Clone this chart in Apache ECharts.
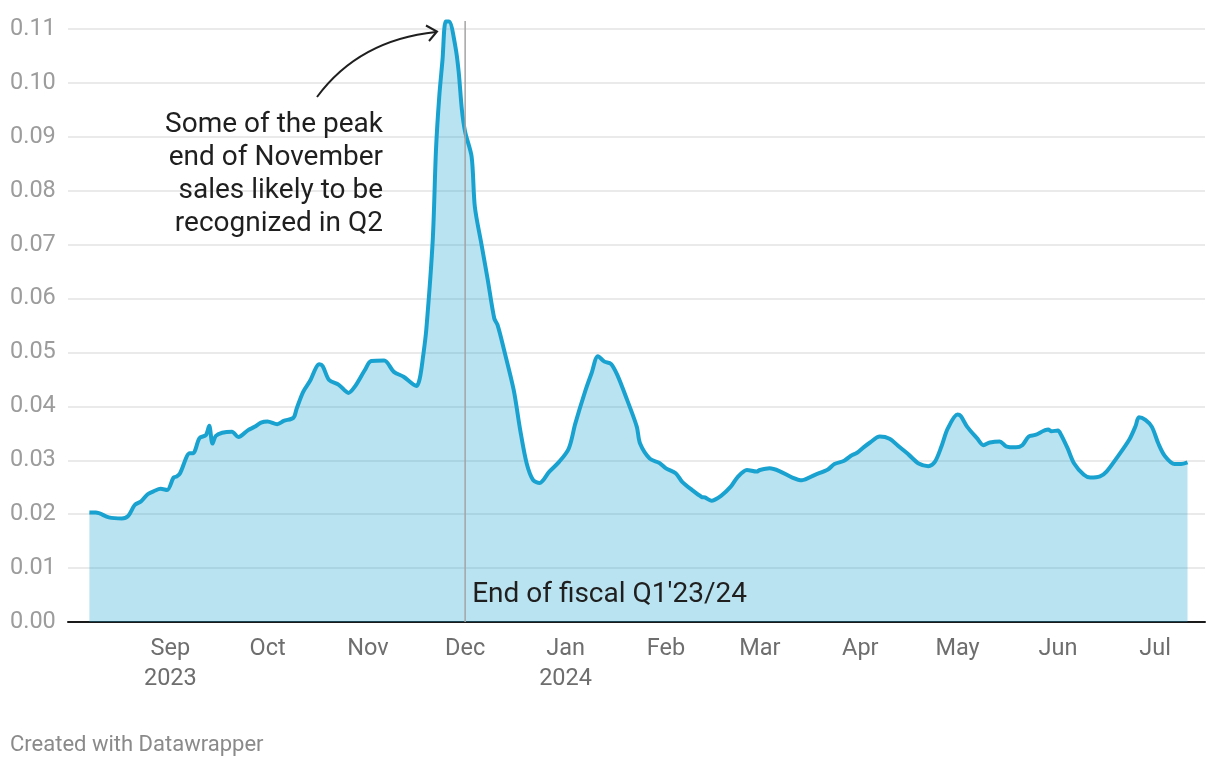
<!DOCTYPE html>
<html>
<head>
<meta charset="utf-8">
<script src="https://cdn.jsdelivr.net/npm/echarts@6/dist/echarts.min.js"></script>
<style>
  html, body { margin: 0; padding: 0; background: #fff; }
  #chart { width: 1220px; height: 768px; }
</style>
</head>
<body>
<div id="chart"></div>
<script>
// daily sales share
const dates = [
  '2023-08-07', '2023-08-09', '2023-08-13', '2023-08-17', '2023-08-19', '2023-08-21', '2023-08-23', '2023-08-25',
  '2023-08-27', '2023-08-29', '2023-08-31', '2023-09-02', '2023-09-03', '2023-09-04', '2023-09-07', '2023-09-08',
  '2023-09-10', '2023-09-12', '2023-09-13', '2023-09-14', '2023-09-15', '2023-09-17', '2023-09-20', '2023-09-22',
  '2023-09-25', '2023-09-27', '2023-09-29', '2023-10-01', '2023-10-04', '2023-10-06', '2023-10-09', '2023-10-10',
  '2023-10-12', '2023-10-14', '2023-10-17', '2023-10-18', '2023-10-20', '2023-10-23', '2023-10-26', '2023-10-28',
  '2023-10-31', '2023-11-02', '2023-11-06', '2023-11-09', '2023-11-12', '2023-11-16', '2023-11-17', '2023-11-18',
  '2023-11-19', '2023-11-21', '2023-11-22', '2023-11-23', '2023-11-24', '2023-11-25', '2023-11-26', '2023-11-28',
  '2023-11-29', '2023-11-30', '2023-12-01', '2023-12-03', '2023-12-04', '2023-12-06', '2023-12-08', '2023-12-10',
  '2023-12-11', '2023-12-13', '2023-12-16', '2023-12-18', '2023-12-20', '2023-12-22', '2023-12-24', '2023-12-27',
  '2023-12-30', '2024-01-02', '2024-01-04', '2024-01-07', '2024-01-09', '2024-01-11', '2024-01-13', '2024-01-15',
  '2024-01-17', '2024-01-20', '2024-01-23', '2024-01-24', '2024-01-27', '2024-01-30', '2024-02-01', '2024-02-04',
  '2024-02-06', '2024-02-09', '2024-02-12', '2024-02-13', '2024-02-15', '2024-02-18', '2024-02-21', '2024-02-23',
  '2024-02-26', '2024-02-29', '2024-03-01', '2024-03-04', '2024-03-07', '2024-03-11', '2024-03-14', '2024-03-18',
  '2024-03-22', '2024-03-24', '2024-03-27', '2024-03-29', '2024-03-31', '2024-04-02', '2024-04-04', '2024-04-07',
  '2024-04-10', '2024-04-13', '2024-04-16', '2024-04-19', '2024-04-22', '2024-04-24', '2024-04-26', '2024-04-28',
  '2024-05-01', '2024-05-02', '2024-05-04', '2024-05-07', '2024-05-09', '2024-05-11', '2024-05-14', '2024-05-16',
  '2024-05-19', '2024-05-21', '2024-05-23', '2024-05-25', '2024-05-29', '2024-05-30', '2024-06-01', '2024-06-02',
  '2024-06-04', '2024-06-06', '2024-06-09', '2024-06-11', '2024-06-14', '2024-06-16', '2024-06-19', '2024-06-23',
  '2024-06-25', '2024-06-26', '2024-06-28', '2024-06-30', '2024-07-02', '2024-07-04', '2024-07-07', '2024-07-09',
  '2024-07-11'
];
const values = [
  0.0203, 0.0203, 0.0194, 0.0192, 0.0197, 0.0217, 0.0224, 0.0237,
  0.0243, 0.0247, 0.0245, 0.0268, 0.0270, 0.0276, 0.0313, 0.0313,
  0.0341, 0.0347, 0.0364, 0.0331, 0.0345, 0.0351, 0.0353, 0.0343,
  0.0356, 0.0362, 0.0370, 0.0372, 0.0367, 0.0373, 0.0379, 0.0396,
  0.0427, 0.0446, 0.0478, 0.0475, 0.0449, 0.0440, 0.0425, 0.0437,
  0.0467, 0.0484, 0.0485, 0.0464, 0.0455, 0.0438, 0.0452, 0.0492,
  0.0542, 0.0709, 0.0876, 0.0974, 0.1042, 0.1114, 0.1114, 0.1067,
  0.1021, 0.0950, 0.0909, 0.0863, 0.0770, 0.0702, 0.0634, 0.0563,
  0.0551, 0.0505, 0.0430, 0.0356, 0.0294, 0.0263, 0.0258, 0.0279,
  0.0297, 0.0322, 0.0368, 0.0427, 0.0461, 0.0493, 0.0483, 0.0479,
  0.0458, 0.0412, 0.0362, 0.0331, 0.0303, 0.0295, 0.0285, 0.0276,
  0.0260, 0.0245, 0.0232, 0.0231, 0.0225, 0.0234, 0.0251, 0.0268,
  0.0282, 0.0279, 0.0282, 0.0285, 0.0280, 0.0268, 0.0263, 0.0273,
  0.0283, 0.0293, 0.0299, 0.0308, 0.0314, 0.0324, 0.0333, 0.0344,
  0.0340, 0.0325, 0.0310, 0.0294, 0.0289, 0.0297, 0.0325, 0.0359,
  0.0385, 0.0382, 0.0362, 0.0341, 0.0328, 0.0333, 0.0335, 0.0326,
  0.0324, 0.0328, 0.0344, 0.0347, 0.0357, 0.0354, 0.0355, 0.0347,
  0.0322, 0.0294, 0.0273, 0.0268, 0.0270, 0.0279, 0.0303, 0.0338,
  0.0364, 0.0380, 0.0375, 0.0362, 0.0331, 0.0308, 0.0293, 0.0293,
  0.0296
];

const monthTicks = [
  '2023-09-01', '2023-10-01', '2023-11-01', '2023-12-01', '2024-01-01', '2024-02-01',
  '2024-03-01', '2024-04-01', '2024-05-01', '2024-06-01', '2024-07-01'
];
const monthLabels = ['Sep\n2023', 'Oct', 'Nov', 'Dec', 'Jan\n2024', 'Feb', 'Mar', 'Apr', 'May', 'Jun', 'Jul'];

const fiscalEnd = '2023-12-01';
const fiscalLabel = "End of fiscal Q1'23/24";
const noteLines = ['Some of the peak', 'end of November', 'sales likely to be', 'recognized in Q2'];
const credit = 'Created with Datawrapper';

const DAY = 86400000;
const ts = (s) => new Date(s + 'T00:00:00').getTime();
const tickTimes = monthTicks.map(ts);

const FONT = 'Roboto, "Noto Sans", sans-serif';
const LINE = '#19a2cf';

const chart = echarts.init(document.getElementById('chart'), null, { renderer: 'canvas' });

chart.setOption({
  animation: false,
  backgroundColor: '#fff',
  grid: { left: 68, right: 15, top: 29, bottom: 146, containLabel: false },
  xAxis: {
    // plain value axis on timestamps so the month labels can be placed with customValues
    type: 'value',
    min: ts('2023-08-01') - 0.6 * DAY,
    max: ts('2024-07-17') - 0.6 * DAY,
    axisLine: { show: true, lineStyle: { color: '#1a1a1a', width: 2 } },
    axisTick: { show: false },
    splitLine: { show: false },
    axisLabel: {
      customValues: tickTimes,
      formatter: (v) => {
        const i = tickTimes.indexOf(v);
        return i >= 0 ? monthLabels[i] : '';
      },
      color: '#6e6e6e',
      fontFamily: FONT,
      fontSize: 23.5,
      lineHeight: 30,
      margin: 12,
      align: 'center',
    },
  },
  yAxis: {
    type: 'value',
    min: 0,
    max: 0.11,
    interval: 0.01,
    axisLine: { show: false },
    axisTick: { show: false },
    splitLine: { lineStyle: { color: '#e3e3e3', width: 1.5 } },
    axisLabel: {
      formatter: (v) => v.toFixed(2),
      color: '#9c9c9c',
      fontFamily: FONT,
      fontSize: 23.5,
      align: 'left',
      margin: 58,
    },
  },
  series: [
    {
      type: 'line',
      data: dates.map((d, i) => [ts(d), values[i]]),
      showSymbol: false,
      smooth: 0.3,
      clip: false,
      lineStyle: { color: LINE, width: 4 },
      areaStyle: { color: LINE, opacity: 0.3 },
      z: 2,
    },
  ],
});

// annotations, anchored to the axes
const vx = chart.convertToPixel({ xAxisIndex: 0 }, ts(fiscalEnd));
const y0 = chart.convertToPixel({ yAxisIndex: 0 }, 0);

chart.setOption({
  graphic: [
    {
      type: 'line',
      z: 10,
      shape: { x1: vx, y1: 21, x2: vx, y2: y0 },
      style: { stroke: '#a4a4a4', lineWidth: 1.5 },
    },
    {
      type: 'text',
      z: 11,
      x: vx + 7,
      y: 595,
      style: {
        text: fiscalLabel,
        font: '28px ' + FONT,
        fill: '#1f1f1f',
        verticalAlign: 'middle',
        align: 'left',
      },
    },
    {
      type: 'text',
      z: 11,
      x: 383,
      y: 108.5,
      style: {
        text: noteLines.join('\n'),
        font: '28px ' + FONT,
        lineHeight: 33,
        fill: '#1f1f1f',
        align: 'right',
        verticalAlign: 'top',
      },
    },
    {
      type: 'bezierCurve',
      z: 11,
      shape: { x1: 317, y1: 97, x2: 436, y2: 32, cpx1: 359, cpy1: 40 },
      style: { stroke: '#1f1f1f', lineWidth: 2, fill: null },
    },
    {
      type: 'polyline',
      z: 11,
      shape: { points: [[426, 25.5], [437, 31.5], [429, 41]] },
      style: { stroke: '#1f1f1f', lineWidth: 2, fill: null },
    },
    {
      type: 'text',
      z: 11,
      x: 10,
      y: 745,
      style: {
        text: credit,
        font: '22px ' + FONT,
        fill: '#8a8a8a',
        verticalAlign: 'middle',
        align: 'left',
      },
    },
  ],
});
</script>
</body>
</html>
